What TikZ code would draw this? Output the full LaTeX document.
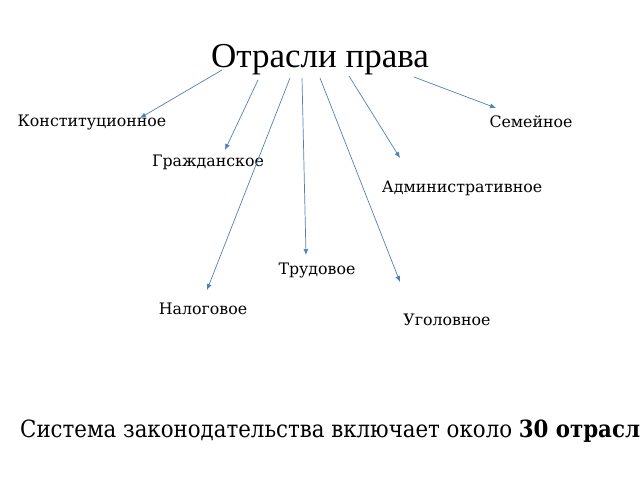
\documentclass[tikz,border=0pt]{standalone}
\usepackage{fontspec}
\setmainfont{DejaVu Serif}
\newfontfamily\titlefont{Liberation Serif}
\newfontfamily\condfont{DejaVu Serif Condensed}
\usetikzlibrary{arrows.meta}
\begin{document}
\begin{tikzpicture}[x=1pt, y=-1pt]
\tikzstyle{branch}=[font=\fontsize{15.8}{18}\selectfont, inner sep=0pt]
\tikzstyle{link}=[draw={rgb,255:red,79;green,129;blue,189}, -{Latex[length=6pt,width=5pt]}, line width=0.7pt]
\useasboundingbox (0,0) rectangle (640,480);
\clip (0,0) rectangle (640,480);
%
\node [font=\titlefont\fontsize{35}{40}\selectfont] (title) at (320,60) {Отрасли права};
\node [branch] (konst) at (92,122) {Конституционное};
\node [branch] (sem) at (531,122) {Семейное};
\node [branch] (grazh) at (208,162) {Гражданское};
\node [branch] (admin) at (462,188) {Административное};
\node [branch] (trud) at (317,270) {Трудовое};
\node [branch] (nalog) at (203,309) {Налоговое};
\node [branch] (ugol) at (447,320) {Уголовное};
\node [anchor=west, inner sep=0pt, font=\condfont\fontsize{23.7}{28}\selectfont] (note) at (20,430)
	{Система законодательства включает около \textbf{30 отраслей}};
%
\foreach \name/\sx/\sy/\ex/\ey in {konst/222/70/140/118, grazh/258/80/225/150,
	nalog/290/78/207/290, trud/302/78/306/255, ugol/320/78/400/282,
	admin/349/76/400/158, sem/414/77/496/108}
{
	\coordinate (s-\name) at (\sx,\sy);
	\coordinate (e-\name) at (\ex,\ey);
	\draw [link] (s-\name) -- (e-\name);
}
\end{tikzpicture}
\end{document}
